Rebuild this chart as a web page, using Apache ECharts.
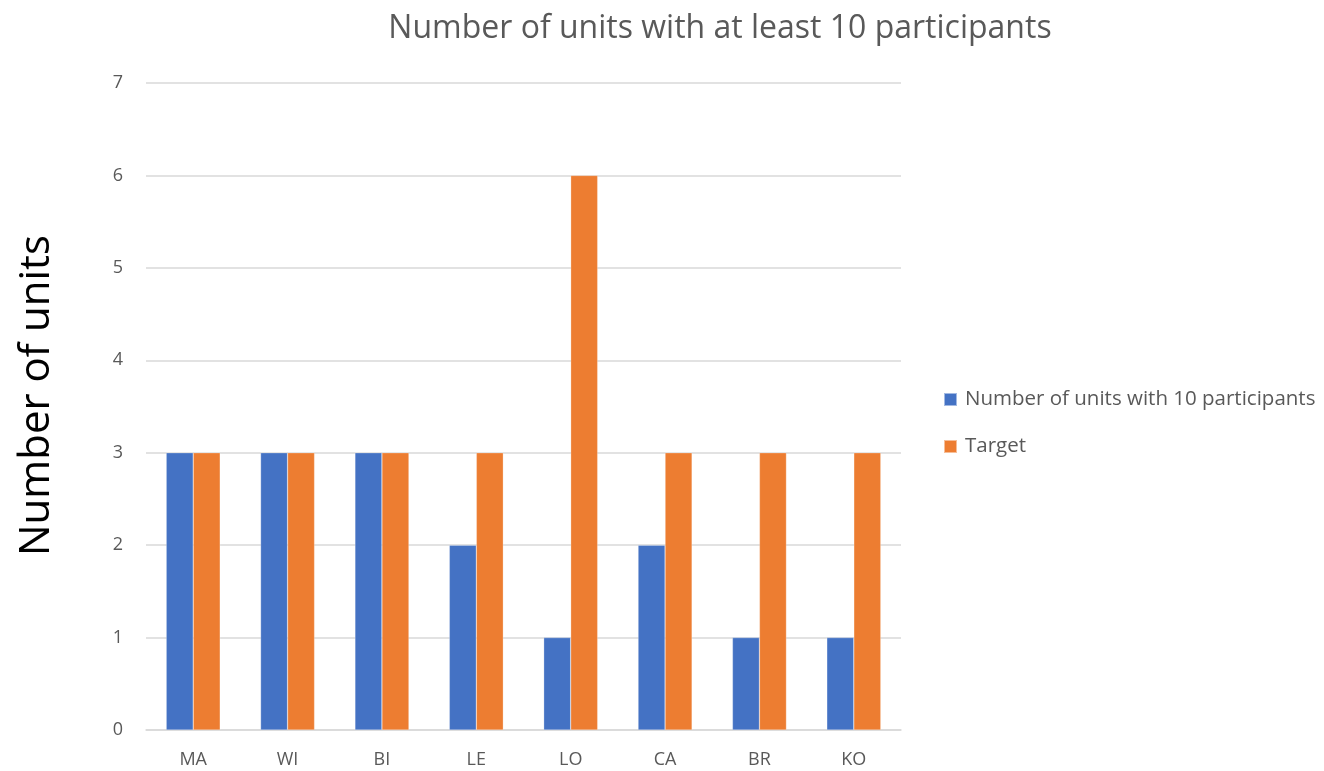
<!DOCTYPE html>
<html>
<head>
<meta charset="utf-8">
<script src="https://cdn.jsdelivr.net/npm/echarts@6/dist/echarts.min.js"></script>
<style>html,body{margin:0;padding:0;background:#fff;}#c{width:1324px;height:771px;}</style>
</head>
<body>
<div id="c"></div>
<script>
const categories = ['MA','WI','BI','LE','LO','CA','BR','KO'];
const unitsWith10 = [3,3,3,2,1,2,1,1];
const target = [3,3,3,3,6,3,3,3];
const seriesNames = ['Number of units with 10 participants','Target'];
const titleText = 'Number of units with at least 10 participants';
const yAxisName = 'Number of units';

const font = 'Open Sans, Noto Sans, sans-serif';
const chart = echarts.init(document.getElementById('c'), null, {renderer:'canvas'});
chart.setOption({
  animation:false,
  backgroundColor:'#fff',
  title:{text:titleText,left:720,top:13,padding:0,textAlign:'center',
    textStyle:{fontFamily:font,fontSize:32,fontWeight:'normal',color:'#595959'}},
  legend:{orient:'vertical',left:943,top:389,padding:0,itemWidth:13,itemHeight:13,itemGap:26,
    icon:'rect',
    textStyle:{fontFamily:font,fontSize:20.5,color:'#595959',padding:[0,0,0,3]},
    data:seriesNames},
  grid:{left:146,right:423,top:83,bottom:41,containLabel:false},
  xAxis:{type:'category',data:categories,
    axisLine:{lineStyle:{color:'#d9d9d9',width:1.5}},axisTick:{show:false},
    axisLabel:{fontFamily:font,fontSize:18,color:'#595959',margin:21}},
  yAxis:{type:'value',min:0,max:7,interval:1,
    name:yAxisName,nameLocation:'middle',nameGap:88,nameRotate:90,
    nameTextStyle:{fontFamily:font,fontSize:42,color:'#000',padding:[0,0,0,22]},
    axisLine:{show:false},axisTick:{show:false},
    splitLine:{lineStyle:{color:'#d9d9d9',width:1.5}},
    axisLabel:{fontFamily:font,fontSize:18,color:'#595959',margin:23}},
  series:[
    {name:seriesNames[0],type:'bar',data:unitsWith10,barWidth:27,barGap:'0%',
      itemStyle:{color:'#4472C4',borderColor:'rgba(255,255,255,0.5)',borderWidth:0.5}},
    {name:seriesNames[1],type:'bar',data:target,barWidth:27,barGap:'0%',
      itemStyle:{color:'#ED7D31',borderColor:'rgba(255,255,255,0.5)',borderWidth:0.5}}
  ]
});
</script>
</body>
</html>
